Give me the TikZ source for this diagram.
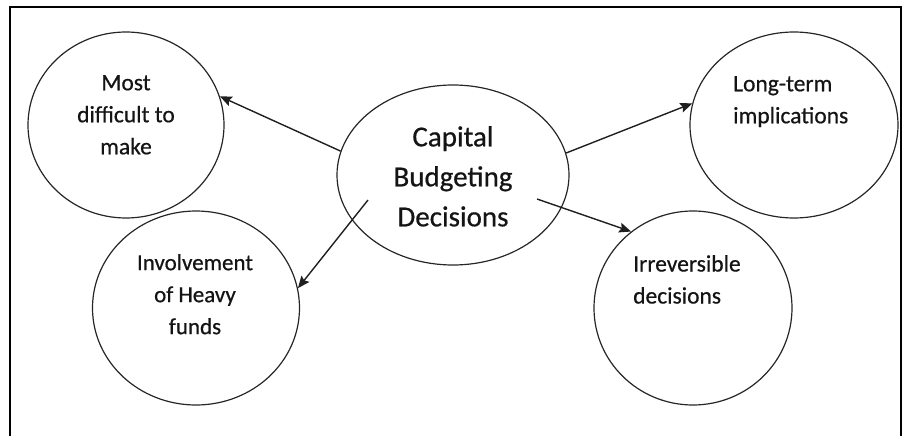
\documentclass[tikz,border=0pt]{standalone}
\usepackage{fontspec}
\setmainfont{Carlito}[FakeBold=0.6]
\usetikzlibrary{shapes.geometric,arrows.meta}
\begin{document}
\begin{tikzpicture}[x=1pt,y=-1pt,
  bubble/.style={draw=black!85, line width=1.2pt, ellipse, inner sep=0pt},
  bubbletext/.style={font=\fontsize{23.5}{32}\selectfont, text=black!92, align=center, inner sep=0pt},
  link/.style={draw=black!88, line width=1.4pt, -{Stealth[length=12pt,width=10pt,inset=2pt]}}]
\useasboundingbox (0,0) rectangle (906,436);
% outer frame (open at the bottom)
\draw[line width=2pt] (10,440) -- (10,7) -- (901,7) -- (901,440);

% bubbles
\node[bubble, minimum width=196pt, minimum height=186pt] (most) at (126,125) {};
\node[bubble, minimum width=232pt, minimum height=180pt] (center) at (453,175) {};
\node[bubble, minimum width=208pt, minimum height=186pt] (long) at (794,125) {};
\node[bubble, minimum width=207pt, minimum height=194pt] (heavy) at (196,308) {};
\node[bubble, minimum width=198pt, minimum height=194pt] (irrev) at (693,308) {};

% texts
\node[bubbletext, anchor=north] (tmost) at (126,75) {Most\\difficult to\\make};
\node[bubbletext, anchor=north, font=\fontsize{29}{40}\selectfont] (tcenter) at (453,126) {Capital\\Budgeting\\Decisions};
\node[bubbletext, anchor=north west, align=left] (tlong) at (733,76) {Long-term\\implications};
\node[bubbletext, anchor=north, font=\fontsize{23}{32}\selectfont] (theavy) at (195,254) {Involvement\\of Heavy\\funds};
\node[bubbletext, anchor=north west, align=left] (tirrev) at (633,255) {Irreversible\\decisions};

% connectors
\coordinate (s3) at (537,199);
\coordinate (s4) at (368,200);
\draw[link] (center.168.7) -- (most.17.6);
\draw[link] (center.11.4) -- (long.168.2);
\draw[link] (s3) -- (irrev.129.4);
\draw[link] (s4) -- (heavy.11);
\end{tikzpicture}
\end{document}
